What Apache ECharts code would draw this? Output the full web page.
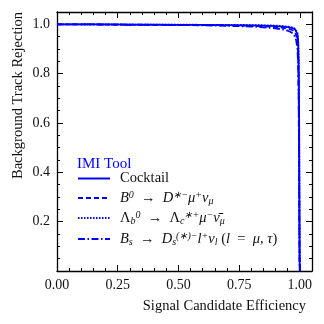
<!DOCTYPE html>
<html>
<head>
<meta charset="utf-8">
<script src="https://cdn.jsdelivr.net/npm/echarts@6/dist/echarts.min.js"></script>
<style>
  html, body { margin: 0; padding: 0; background: #fff; }
  #chart { width: 324px; height: 324px; }
</style>
</head>
<body>
<div id="chart"></div>
<script>
// signal efficiency (x) shared by every curve
var efficiency = [0, 0.1, 0.2, 0.3, 0.4, 0.5, 0.6, 0.7, 0.8, 0.85, 0.9, 0.93, 0.95, 0.96, 0.97,
  0.975, 0.98, 0.985, 0.99, 0.993, 0.995, 0.997, 0.998, 0.999, 1.0];

// background rejection per sample
var cocktail = [1.0, 1.0, 0.9995, 0.999, 0.999, 0.998, 0.998, 0.997, 0.996, 0.995, 0.993, 0.991, 0.989,
  0.987, 0.985, 0.983, 0.98, 0.975, 0.96, 0.93, 0.85, 0.6, 0.3, 0.05, 0];
var b0 = [1.0, 1.0, 0.999, 0.999, 0.998, 0.998, 0.997, 0.996, 0.994, 0.992, 0.989, 0.986, 0.983,
  0.98, 0.976, 0.972, 0.967, 0.955, 0.93, 0.88, 0.75, 0.45, 0.2, 0.05, 0];
var lambdaB = [1.0, 1.0, 1.0, 0.999, 0.999, 0.999, 0.998, 0.998, 0.997, 0.996, 0.995, 0.993, 0.991,
  0.989, 0.987, 0.985, 0.982, 0.978, 0.965, 0.94, 0.87, 0.65, 0.35, 0.08, 0];
var bs = [1.0, 1.0, 0.999, 0.998, 0.998, 0.997, 0.996, 0.994, 0.991, 0.988, 0.984, 0.979, 0.974,
  0.97, 0.964, 0.958, 0.95, 0.935, 0.9, 0.84, 0.7, 0.4, 0.15, 0.03, 0];

var xTicks = [0, 0.25, 0.5, 0.75, 1.0];
var yTicks = [0.2, 0.4, 0.6, 0.8, 1.0];

var seriesNames = ['Cocktail', 'B0', 'Lb', 'Bs'];
var arrow = '{r|\u2002→\u2002}';
var seriesLabels = [
  '{r|Cocktail}',
  '{i|B}{sup|0}' + arrow + '{i|D}{sup|∗−}{i|μ}{sup|+}{i|ν}{sub|μ}',
  '{r|Λ}{sub|b}{sup|0}' + arrow + '{r|Λ}{sub|c}{sup|∗+}{i|μ}{sup|−}{i|ν̄}{sub|μ}',
  '{i|B}{sub|s}' + arrow + '{i|D}{sub|s}{sup|(∗)−}{i|l}{sup|+}{i|ν}{sub|l}{r| (}{i|l}{r|\u2002=\u2002}{i|μ}{r|, }{i|τ}{r|)}'
];
var dashTypes = ['solid', [5, 3], [1.5, 1.5], [7, 2.5, 1.5, 2.5]];
var seriesData = [cocktail, b0, lambdaB, bs];

var blue = '#0000ff';
var ink = '#111';
var serif = 'Liberation Serif';

function pairs(ys) {
  return efficiency.map(function (x, i) { return [x, ys[i]]; });
}

function inList(list, v) {
  return list.some(function (t) { return Math.abs(t - v) < 1e-6; });
}

var chart = echarts.init(document.getElementById('chart'));

function mkAxis(pos, interval, len, showLabel, ticks, digits, showLine) {
  return {
    type: 'value',
    position: pos,
    min: 0,
    max: 1.05,
    interval: interval,
    axisLine: { show: showLine, onZero: false, lineStyle: { color: '#000', width: 1.3 } },
    axisTick: { show: true, inside: true, length: len, lineStyle: { color: '#000', width: 1 } },
    axisLabel: {
      show: showLabel,
      margin: 7,
      color: ink,
      fontFamily: serif,
      fontSize: 14,
      formatter: function (v) { return inList(ticks, v) ? v.toFixed(digits) : ''; }
    },
    splitLine: { show: false }
  };
}

var legends = [];
var legendTops = [172, 191, 211, 232];
seriesNames.forEach(function (name, i) {
  legends.push({
    data: [name],
    left: 77,
    top: legendTops[i] - 1,
    padding: 0,
    itemWidth: 32,
    itemHeight: 14,
    selectedMode: false,
    itemStyle: { opacity: 0 },
    formatter: function () { return seriesLabels[i]; },
    textStyle: {
      padding: [0, 0, 0, 5],
      rich: {
        r: { fontFamily: serif, fontSize: 14.5, color: ink, lineHeight: 16, verticalAlign: 'middle' },
        i: { fontFamily: serif, fontSize: 14.5, fontStyle: 'italic', color: ink, lineHeight: 16, verticalAlign: 'middle' },
        sup: { fontFamily: serif, fontSize: 10, fontStyle: 'italic', color: ink, verticalAlign: 'top', lineHeight: 16 },
        sub: { fontFamily: serif, fontSize: 10, fontStyle: 'italic', color: ink, verticalAlign: 'bottom', lineHeight: 16 }
      }
    }
  });
});

var option = {
  animation: false,
  title: {
    text: 'IMI Tool',
    left: 77,
    top: 157,
    padding: 0,
    textStyle: { color: blue, fontFamily: serif, fontSize: 15, fontWeight: 'normal' }
  },
  legend: legends,
  grid: { left: 57, right: 12, top: 12, bottom: 53 },
  xAxis: [
    mkAxis('bottom', 0.25, 6, true, xTicks, 2, true),
    mkAxis('bottom', 0.05, 3, false, xTicks, 2, false),
    mkAxis('top', 0.25, 6, false, xTicks, 2, true),
    mkAxis('top', 0.05, 3, false, xTicks, 2, false)
  ],
  yAxis: [
    mkAxis('left', 0.2, 6, true, yTicks, 1, true),
    mkAxis('left', 0.05, 3, false, yTicks, 1, false),
    mkAxis('right', 0.2, 6, false, yTicks, 1, true),
    mkAxis('right', 0.05, 3, false, yTicks, 1, false)
  ],
  graphic: [
    {
      type: 'text',
      right: 18,
      top: 299,
      style: { text: 'Signal Candidate Efficiency', fontFamily: serif, fontSize: 14.5, fill: ink }
    },
    {
      type: 'text',
      x: 18,
      y: 12,
      rotation: Math.PI / 2,
      style: { text: 'Background Track Rejection', fontFamily: serif, fontSize: 14.5, fill: ink,
        align: 'right', verticalAlign: 'middle' }
    }
  ],
  series: seriesNames.map(function (name, i) {
    return {
      name: name,
      type: 'line',
      xAxisIndex: 0,
      yAxisIndex: 0,
      showSymbol: false,
      symbol: 'none',
      data: pairs(seriesData[i]),
      color: blue,
      lineStyle: { color: blue, width: 1.8, type: dashTypes[i] }
    };
  })
};

chart.setOption(option);
</script>
</body>
</html>
